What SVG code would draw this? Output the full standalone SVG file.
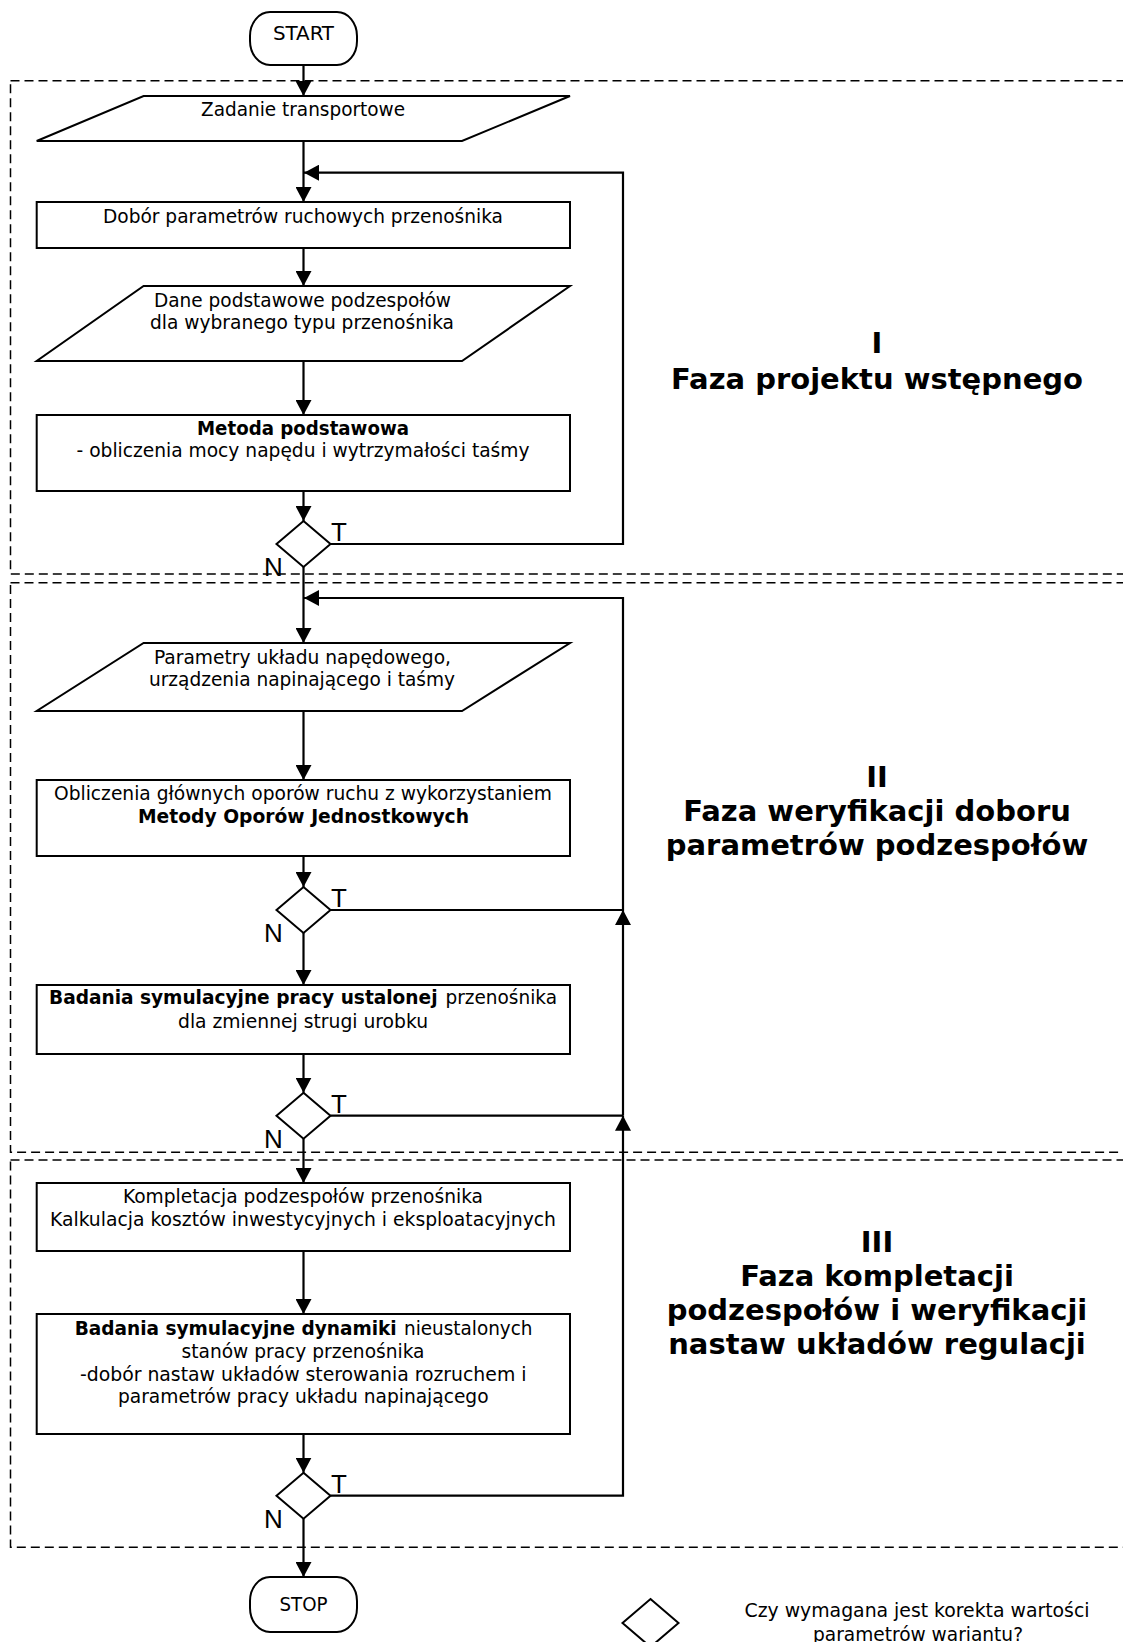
<svg xmlns="http://www.w3.org/2000/svg" width="1123" height="1642" viewBox="0 0 1123 1642">
<style>
.bg{fill:#fff}
.box{fill:#fff;stroke:#000;stroke-width:2}
.phase{fill:none;stroke:#000;stroke-width:1.5;stroke-dasharray:9 5}
.con{fill:none;stroke:#000;stroke-width:2.2}
.t{font-family:"DejaVu Sans Condensed","DejaVu Sans",sans-serif;font-size:19.5px;fill:#000}
.b{font-weight:bold}
.m{text-anchor:middle}
.lbl{font-family:"Liberation Sans",Arial,sans-serif;font-size:26px;fill:#000}
.ph{font-family:"DejaVu Sans",Verdana,sans-serif;font-weight:bold;font-size:29px;text-anchor:middle;fill:#000}
</style>
<defs>
<marker id="arr" markerUnits="userSpaceOnUse" viewBox="0 0 15 16" markerWidth="15" markerHeight="16" refX="15" refY="8" orient="auto">
<path d="M0,0 L15,8 L0,16 z" fill="#000"/>
</marker>
</defs>
<rect class="bg" x="0" y="0" width="1123" height="1642"/>

<g id="phases">
<rect class="phase" x="10.5" y="80.7" width="1130" height="493.3"/>
<rect class="phase" x="10.5" y="582.7" width="1130" height="569.6"/>
<rect class="phase" x="10.5" y="1160" width="1130" height="387.3"/>
</g>

<g id="connectors">
<path class="con" d="M303.5,65 V96" marker-end="url(#arr)"/>
<path class="con" d="M303.5,141 V202" marker-end="url(#arr)"/>
<path class="con" d="M303.5,248 V286" marker-end="url(#arr)"/>
<path class="con" d="M303.5,361 V415" marker-end="url(#arr)"/>
<path class="con" d="M303.5,491 V521" marker-end="url(#arr)"/>
<path class="con" d="M303.5,567 V643" marker-end="url(#arr)"/>
<path class="con" d="M303.5,711 V780" marker-end="url(#arr)"/>
<path class="con" d="M303.5,856 V887" marker-end="url(#arr)"/>
<path class="con" d="M303.5,933 V985" marker-end="url(#arr)"/>
<path class="con" d="M303.5,1054 V1092.7" marker-end="url(#arr)"/>
<path class="con" d="M303.5,1138.7 V1183" marker-end="url(#arr)"/>
<path class="con" d="M303.5,1251 V1314" marker-end="url(#arr)"/>
<path class="con" d="M303.5,1434 V1472.7" marker-end="url(#arr)"/>
<path class="con" d="M303.5,1518.7 V1577" marker-end="url(#arr)"/>
<path class="con" d="M330.5,544 H623 V172.7 H304" marker-end="url(#arr)"/>
<path class="con" d="M330.5,910 H623"/>
<path class="con" d="M623,910 V598 H304" marker-end="url(#arr)"/>
<path class="con" d="M330.5,1115.7 H623"/>
<path class="con" d="M623,1115.7 V910" marker-end="url(#arr)"/>
<path class="con" d="M330.5,1495.7 H623 V1115.7" marker-end="url(#arr)"/>
</g>

<g id="start">
<rect class="box" x="250" y="12" width="107" height="53" rx="20" ry="24"/>
<text class="t m" x="303.5" y="39.5" textLength="61" lengthAdjust="spacingAndGlyphs">START</text>
</g>

<g id="zadanie">
<polygon class="box" points="143.6,96 570,96 462,141 36.7,141"/>
<text class="t m" x="303" y="116" textLength="204" lengthAdjust="spacingAndGlyphs">Zadanie transportowe</text>
</g>

<g id="dobor">
<rect class="box" x="36.7" y="202" width="533.3" height="46"/>
<text class="t m" x="303" y="223.3" textLength="400" lengthAdjust="spacingAndGlyphs">Dobór parametrów ruchowych przenośnika</text>
</g>

<g id="dane">
<polygon class="box" points="143.6,286 570,286 462,361 36.7,361"/>
<text class="t m" x="302.5" y="307" textLength="297" lengthAdjust="spacingAndGlyphs">Dane podstawowe podzespołów</text>
<text class="t m" x="302" y="328.5" textLength="304" lengthAdjust="spacingAndGlyphs">dla wybranego typu przenośnika</text>
</g>

<g id="metoda">
<rect class="box" x="36.7" y="415" width="533.3" height="76"/>
<text class="t b m" x="303" y="435" textLength="212" lengthAdjust="spacingAndGlyphs">Metoda podstawowa</text>
<text class="t m" x="303" y="457" textLength="453" lengthAdjust="spacingAndGlyphs">- obliczenia mocy napędu i wytrzymałości taśmy</text>
</g>

<g id="dec1">
<polygon class="box" points="303.5,521 330.5,544 303.5,567 276.5,544"/>
<text class="lbl" x="331" y="541">T</text>
<text class="lbl" x="264" y="576">N</text>
</g>

<g id="parametry">
<polygon class="box" points="143.6,643 570,643 462,711 36.7,711"/>
<text class="t m" x="302.5" y="664" textLength="297" lengthAdjust="spacingAndGlyphs">Parametry układu napędowego,</text>
<text class="t m" x="302" y="686" textLength="306" lengthAdjust="spacingAndGlyphs">urządzenia napinającego i taśmy</text>
</g>

<g id="obliczenia">
<rect class="box" x="36.7" y="780" width="533.3" height="76"/>
<text class="t m" x="303" y="800" textLength="498" lengthAdjust="spacingAndGlyphs">Obliczenia głównych oporów ruchu z wykorzystaniem</text>
<text class="t b m" x="303.5" y="823" textLength="331" lengthAdjust="spacingAndGlyphs">Metody Oporów Jednostkowych</text>
</g>

<g id="dec2">
<polygon class="box" points="303.5,887 330.5,910 303.5,933 276.5,910"/>
<text class="lbl" x="331" y="907">T</text>
<text class="lbl" x="264" y="942">N</text>
</g>

<g id="badania1">
<rect class="box" x="36.7" y="985" width="533.3" height="69"/>
<text class="t b" x="49" y="1004" textLength="388.5" lengthAdjust="spacingAndGlyphs">Badania symulacyjne pracy ustalonej</text>
<text class="t" x="445.5" y="1004" textLength="111.5" lengthAdjust="spacingAndGlyphs">przenośnika</text>
<text class="t m" x="303" y="1027.5" textLength="250" lengthAdjust="spacingAndGlyphs">dla zmiennej strugi urobku</text>
</g>

<g id="dec3">
<polygon class="box" points="303.5,1092.7 330.5,1115.7 303.5,1138.7 276.5,1115.7"/>
<text class="lbl" x="331" y="1112.7">T</text>
<text class="lbl" x="264" y="1147.7">N</text>
</g>

<g id="kompletacja">
<rect class="box" x="36.7" y="1183" width="533.3" height="68"/>
<text class="t m" x="303" y="1203" textLength="360" lengthAdjust="spacingAndGlyphs">Kompletacja podzespołów przenośnika</text>
<text class="t m" x="303" y="1225.5" textLength="506" lengthAdjust="spacingAndGlyphs">Kalkulacja kosztów inwestycyjnych i eksploatacyjnych</text>
</g>

<g id="badania2">
<rect class="box" x="36.7" y="1314" width="533.3" height="120"/>
<text class="t b" x="74.7" y="1335" textLength="322" lengthAdjust="spacingAndGlyphs">Badania symulacyjne dynamiki</text>
<text class="t" x="404" y="1335" textLength="128.5" lengthAdjust="spacingAndGlyphs">nieustalonych</text>
<text class="t m" x="303" y="1357.5" textLength="243" lengthAdjust="spacingAndGlyphs">stanów pracy przenośnika</text>
<text class="t m" x="303.2" y="1380.5" textLength="446.5" lengthAdjust="spacingAndGlyphs">-dobór nastaw układów sterowania rozruchem i</text>
<text class="t m" x="303.3" y="1403" textLength="370.6" lengthAdjust="spacingAndGlyphs">parametrów pracy układu napinającego</text>
</g>

<g id="dec4">
<polygon class="box" points="303.5,1472.7 330.5,1495.7 303.5,1518.7 276.5,1495.7"/>
<text class="lbl" x="331" y="1492.7">T</text>
<text class="lbl" x="264" y="1527.7">N</text>
</g>

<g id="stop">
<rect class="box" x="250" y="1577" width="107" height="55" rx="20" ry="24"/>
<text class="t m" x="303.5" y="1611" textLength="48" lengthAdjust="spacingAndGlyphs">STOP</text>
</g>

<g id="phase-labels">
<text class="ph" x="877" y="353">I</text>
<text class="ph" x="877" y="389">Faza projektu wstępnego</text>
<text class="ph" x="877" y="787">II</text>
<text class="ph" x="877" y="821">Faza weryfikacji doboru</text>
<text class="ph" x="877" y="855">parametrów podzespołów</text>
<text class="ph" x="877" y="1252">III</text>
<text class="ph" x="877" y="1286">Faza kompletacji</text>
<text class="ph" x="877" y="1320">podzespołów i weryfikacji</text>
<text class="ph" x="877" y="1354">nastaw układów regulacji</text>
</g>

<g id="legend">
<polygon class="box" points="650.5,1599 678.5,1623 650.5,1647 622.5,1623"/>
<text class="t m" x="917" y="1617" textLength="345" lengthAdjust="spacingAndGlyphs">Czy wymagana jest korekta wartości</text>
<text class="t m" x="918" y="1641" textLength="210" lengthAdjust="spacingAndGlyphs">parametrów wariantu?</text>
</g>
</svg>
